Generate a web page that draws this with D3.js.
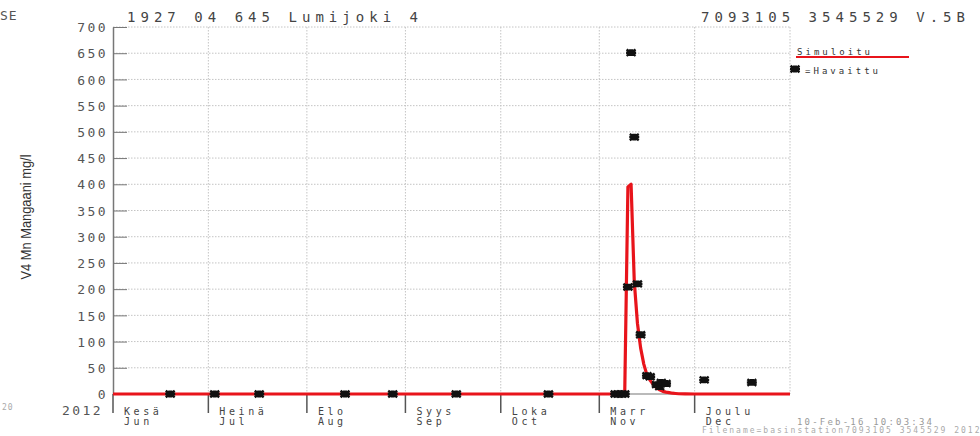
<!DOCTYPE html>
<html>
<head>
<meta charset="utf-8">
<script src="https://d3js.org/d3.v7.min.js"></script>
<style>
body { margin: 0; background: #fff; }
text { font-family: "DejaVu Sans Mono", "Liberation Mono", monospace; }
</style>
</head>
<body>
<script>
//observed samples (Havaittu)
var obsDates = ["2012-06-19", "2012-07-03", "2012-07-17", "2012-08-13", "2012-08-28",
    "2012-09-17", "2012-10-16", "2012-11-06", "2012-11-07", "2012-11-08", "2012-11-09",
    "2012-11-10", "2012-11-11", "2012-11-12", "2012-11-13", "2012-11-14", "2012-11-16",
    "2012-11-17", "2012-11-19", "2012-11-20", "2012-11-20T12:00Z", "2012-11-22",
    "2012-12-04", "2012-12-19"];
var obsValues = [0, 0, 0, 0, 0, 0, 0, 0, 0, 0, 0, 204, 651, 490, 210, 113, 35, 33, 18, 14, 22, 20, 27, 22];
//simulated curve (Simuloitu)
var simDates = ["2012-06-01", "2012-11-09", "2012-11-10", "2012-11-11", "2012-11-12", "2012-11-13",
    "2012-11-14", "2012-11-15", "2012-11-16", "2012-11-17", "2012-11-18", "2012-11-19", "2012-11-20",
    "2012-11-21", "2012-11-22", "2012-11-23", "2012-11-24", "2012-11-25", "2012-11-26", "2012-11-28",
    "2012-12-01", "2012-12-31"];
var simValues = [0, 0, 395, 400, 215, 135, 88, 57, 36, 26, 18, 12, 8, 5, 3.5, 2.5, 1.5, 1, 0.5, 0.2, 0, 0];
//axis ticks and month names
var yTicks = [0, 50, 100, 150, 200, 250, 300, 350, 400, 450, 500, 550, 600, 650, 700];
var monthStarts = ["2012-06-01", "2012-07-01", "2012-08-01", "2012-09-01", "2012-10-01", "2012-11-01", "2012-12-01"];
var monthFi = ["Kesä", "Heinä", "Elo", "Syys", "Loka", "Marr", "Joulu"];
var monthEn = ["Jun", "Jul", "Aug", "Sep", "Oct", "Nov", "Dec"];

window.onload = function(){
    var w = 980, h = 436;
    var svg = d3.select("body")
        .append("svg")
        .attr("width", w)
        .attr("height", h)
        .style("background-color", "#fff");

//scales
    var x = d3.scaleUtc()
        .domain([d3.isoParse("2012-06-01"), d3.isoParse("2012-12-31")])
        .range([113, 790]);
    var y = d3.scaleLinear()
        .domain([0, 700])
        .range([394, 27]);

//dotted grid
    var grid = svg.append("g").attr("class", "grid");
    grid.selectAll(".hgrid")
        .data(yTicks.slice(1))
        .enter()
        .append("line")
        .attr("x1", 113).attr("x2", 790)
        .attr("y1", function(d){ return y(d); })
        .attr("y2", function(d){ return y(d); });
    grid.selectAll(".vgrid")
        .data(monthStarts.slice(1).concat(["2012-12-31"]))
        .enter()
        .append("line")
        .attr("x1", function(d){ return x(d3.isoParse(d)); })
        .attr("x2", function(d){ return x(d3.isoParse(d)); })
        .attr("y1", 27).attr("y2", 394);
    grid.selectAll("line")
        .style("stroke", "#c4c4c4")
        .style("stroke-width", 1)
        .style("stroke-dasharray", "1.5,1.5");

//y axis
    var yAxis = d3.axisLeft(y)
        .tickValues(yTicks)
        .tickSizeInner(-14)
        .tickSizeOuter(0)
        .tickPadding(20);
    var ya = svg.append("g")
        .attr("transform", "translate(113,0)")
        .call(yAxis);
    ya.select(".domain").style("stroke", "#777").style("stroke-width", 1.5);
    ya.selectAll(".tick line").style("stroke", "#777");
    ya.selectAll(".tick text")
        .attr("x", -5)
        .attr("dy", "0.36em")
        .style("font-size", "13px")
        .style("letter-spacing", "2.4px")
        .style("fill", "#555");

//x axis line and month ticks
    svg.append("line")
        .attr("x1", 113).attr("x2", 790)
        .attr("y1", 394).attr("y2", 394)
        .style("stroke", "#777").style("stroke-width", 1.2);
    var months = svg.selectAll(".month")
        .data(monthStarts)
        .enter()
        .append("g")
        .attr("class", "month")
        .attr("transform", function(d){ return "translate(" + x(d3.isoParse(d)) + ",0)"; });
    months.append("line")
        .attr("y1", 394).attr("y2", 413)
        .style("stroke", "#555").style("stroke-width", 1.5);
    months.append("text")
        .attr("x", 11).attr("y", 415)
        .style("font-size", "10px")
        .style("letter-spacing", "3.6px")
        .style("fill", "#444")
        .text(function(d, i){ return monthFi[i]; });
    months.append("text")
        .attr("x", 11).attr("y", 424.5)
        .style("font-size", "10px")
        .style("letter-spacing", "3.6px")
        .style("fill", "#444")
        .text(function(d, i){ return monthEn[i]; });
    svg.append("text")
        .attr("x", 62).attr("y", 415)
        .style("font-size", "13px")
        .style("letter-spacing", "2.4px")
        .style("fill", "#555")
        .text("2012");

//simulated line
    var line = d3.line()
        .x(function(d){ return x(d.date); })
        .y(function(d){ return y(d.value); });
    var sim = simDates.map(function(d, i){ return {date: d3.isoParse(d), value: simValues[i]}; });
    svg.append("path")
        .datum(sim)
        .attr("d", line)
        .style("fill", "none")
        .style("stroke", "#e8141b")
        .style("stroke-width", 3.2)
        .style("stroke-linejoin", "round");

//observed markers
    var star = "M-4.5,-3.2L4.5,3.2M-4.5,3.2L4.5,-3.2M-5,0L5,0M-2,-2.2L2,-2.2M-2,2.2L2,2.2";
    var obs = obsDates.map(function(d, i){ return {date: d3.isoParse(d), value: obsValues[i]}; });
    svg.selectAll(".obs")
        .data(obs)
        .enter()
        .append("path")
        .attr("class", "obs")
        .attr("d", star)
        .attr("transform", function(d){ return "translate(" + x(d.date) + "," + y(d.value) + ")"; })
        .style("fill", "none")
        .style("stroke", "#111")
        .style("stroke-width", 2.4);

//titles
    svg.append("text")
        .attr("x", 127).attr("y", 22)
        .attr("textLength", 291).attr("lengthAdjust", "spacing")
        .style("font-size", "14px")
        .style("fill", "#444")
        .text("1927 04 645 Lumijoki 4");
    svg.append("text")
        .attr("x", 701).attr("y", 22)
        .attr("textLength", 264).attr("lengthAdjust", "spacing")
        .style("font-size", "14px")
        .style("fill", "#444")
        .text("7093105 3545529 V.5B");
    svg.append("text")
        .attr("x", 0).attr("y", 20)
        .style("font-size", "13px")
        .style("letter-spacing", "1px")
        .style("fill", "#555")
        .text("SE");
    svg.append("text")
        .attr("x", 2).attr("y", 410)
        .style("font-size", "8px")
        .style("letter-spacing", "1px")
        .style("fill", "#aaa")
        .text("20");

//y axis label
    svg.append("text")
        .attr("transform", "translate(31,217) rotate(-90)")
        .attr("text-anchor", "middle")
        .attr("textLength", 125).attr("lengthAdjust", "spacingAndGlyphs")
        .style("font-family", "'Liberation Sans', sans-serif")
        .style("font-size", "15px")
        .style("fill", "#333")
        .text("V4 Mn Mangaani mg/l");

//legend
    svg.append("text")
        .attr("x", 797).attr("y", 54.5)
        .attr("textLength", 73).attr("lengthAdjust", "spacing")
        .style("font-size", "9px")
        .style("fill", "#333")
        .text("Simuloitu");
    svg.append("line")
        .attr("x1", 796).attr("x2", 909)
        .attr("y1", 57).attr("y2", 57)
        .style("stroke", "#e8141b").style("stroke-width", 2);
    svg.append("path")
        .attr("d", star)
        .attr("transform", "translate(795,69)")
        .style("fill", "none")
        .style("stroke", "#111")
        .style("stroke-width", 2.4);
    svg.append("text")
        .attr("x", 805).attr("y", 74)
        .attr("textLength", 73).attr("lengthAdjust", "spacing")
        .style("font-size", "9px")
        .style("fill", "#333")
        .text("=Havaittu");

//footer stamps
    svg.append("text")
        .attr("x", 797).attr("y", 425)
        .attr("textLength", 135).attr("lengthAdjust", "spacing")
        .style("font-size", "9px")
        .style("fill", "#999")
        .text("10-Feb-16 10:03:34");
    svg.append("text")
        .attr("x", 702).attr("y", 433)
        .style("font-size", "8px")
        .style("letter-spacing", "2px")
        .style("fill", "#aaa")
        .text("Filename=basinstation7093105 3545529 2012");
};
</script>
</body>
</html>
